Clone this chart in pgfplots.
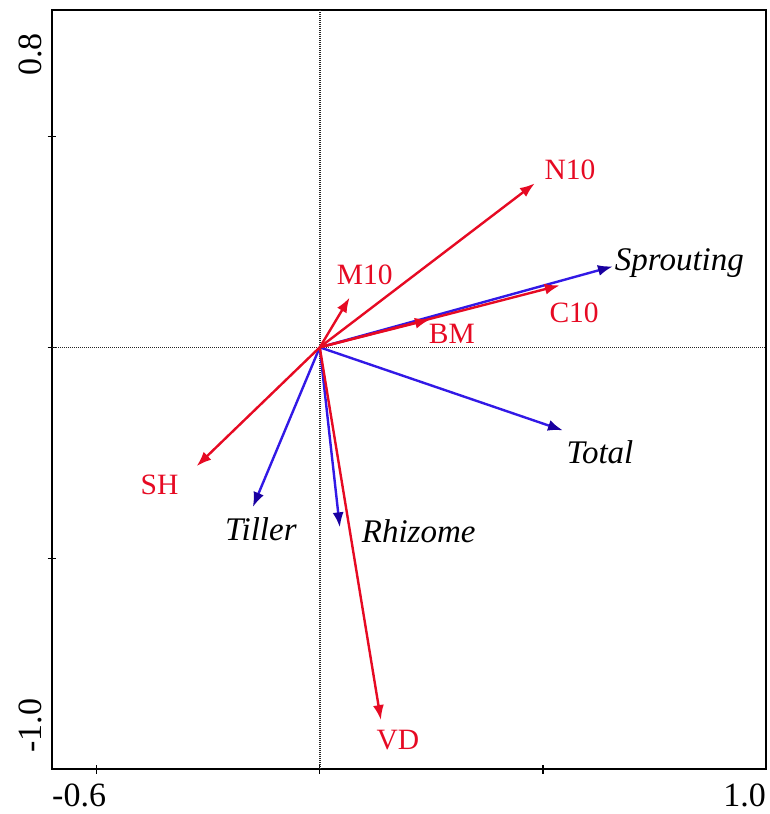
\documentclass[border=0pt]{standalone}
\usepackage{pgfplots}
\pgfplotsset{compat=1.18}
\usepackage{fontspec}
\setmainfont{Liberation Serif}
\usetikzlibrary{arrows.meta}
\definecolor{vred}{RGB}{230,10,35}
\definecolor{vblue}{RGB}{50,25,230}
\definecolor{vnavy}{RGB}{25,0,160}
\tikzset{
  redvec/.style={vred, line width=2.4pt, -{Latex[length=15pt,width=11pt]}},
  bluevec/.style={vblue, line width=2.4pt, -{Latex[length=15pt,width=11pt,color=vnavy]}},
  rlab/.style={text=vred, font=\fontsize{29.5}{35}\selectfont, inner sep=0pt},
  blab/.style={text=black, font=\fontsize{33}{40}\selectfont\itshape, inner sep=0pt},
  tlab/.style={text=black, font=\fontsize{34}{40}\selectfont, inner sep=0pt},
}
\begin{document}
\begin{tikzpicture}
\path[use as bounding box] (-52pt,-45pt) rectangle (717pt,769pt);
\begin{axis}[
  anchor=south west, at={(0pt,0pt)},
  width=714pt, height=759pt, scale only axis,
  xmin=-0.6, xmax=1.0, ymin=-1.0, ymax=0.8,
  xtick={-0.5,0,0.5}, ytick={-0.5,0,0.5},
  xticklabels={}, yticklabels={},
  tick align=center, major tick length=9pt,
  xtick pos=left, ytick pos=left,
  axis line style={line width=1.5pt, black},
  tick style={line width=1.3pt, black},
  clip=false,
]
% dotted zero lines
\addplot[black!85, line width=1.6pt, dash pattern=on 1pt off 1pt] coordinates {(0,-1.0) (0,0.8)};
\addplot[black!85, line width=1.6pt, dash pattern=on 1pt off 1pt] coordinates {(-0.6,0) (1.0,0)};
% blue (response) vectors
\addplot[bluevec] coordinates {(0,0) (0.657,0.192)};   % Sprouting
\addplot[bluevec] coordinates {(0,0) (0.545,-0.197)};  % Total
\addplot[bluevec] coordinates {(0,0) (-0.150,-0.379)}; % Tiller
\addplot[bluevec] coordinates {(0,0) (0.045,-0.427)};  % Rhizome
% red (explanatory) vectors
\addplot[redvec] coordinates {(0,0) (0.482,0.389)};    % N10
\addplot[redvec] coordinates {(0,0) (0.538,0.147)};    % C10
\addplot[redvec] coordinates {(0,0) (0.247,0.066)};    % BM
\addplot[redvec] coordinates {(0,0) (0.067,0.118)};    % M10
\addplot[redvec] coordinates {(0,0) (-0.276,-0.282)};  % SH
\addplot[redvec] coordinates {(0,0) (0.137,-0.884)};   % VD
% labels
\node[rlab, anchor=center] at (axis cs:0.561,0.422) {N10};
\node[rlab, anchor=center] at (axis cs:0.570,0.081) {C10};
\node[rlab, anchor=center] at (axis cs:0.296,0.033) {BM};
\node[rlab, anchor=center] at (axis cs:0.101,0.171) {M10};
\node[rlab, anchor=center] at (axis cs:-0.359,-0.327) {SH};
\node[rlab, anchor=center] at (axis cs:0.175,-0.931) {VD};
\node[blab, anchor=base west] at (axis cs:0.661,0.182) {Sprouting};
\node[blab, anchor=base] at (axis cs:0.628,-0.275) {Total};
\node[blab, anchor=base] at (axis cs:-0.132,-0.457) {Tiller};
\node[blab, anchor=base west] at (axis cs:0.094,-0.462) {Rhizome};
% axis range labels
\node[tlab, anchor=base west] at ([yshift=-37pt]axis cs:-0.6,-1.0) {-0.6};
\node[tlab, anchor=base east] at ([yshift=-37pt]axis cs:1.0,-1.0) {1.0};
\node[tlab, rotate=90, anchor=base east] at ([xshift=-10pt,yshift=-23pt]axis cs:-0.6,0.8) {0.8};
\node[tlab, rotate=90, anchor=base west] at ([xshift=-10pt,yshift=16pt]axis cs:-0.6,-1.0) {-1.0};
\end{axis}
\end{tikzpicture}
\end{document}
